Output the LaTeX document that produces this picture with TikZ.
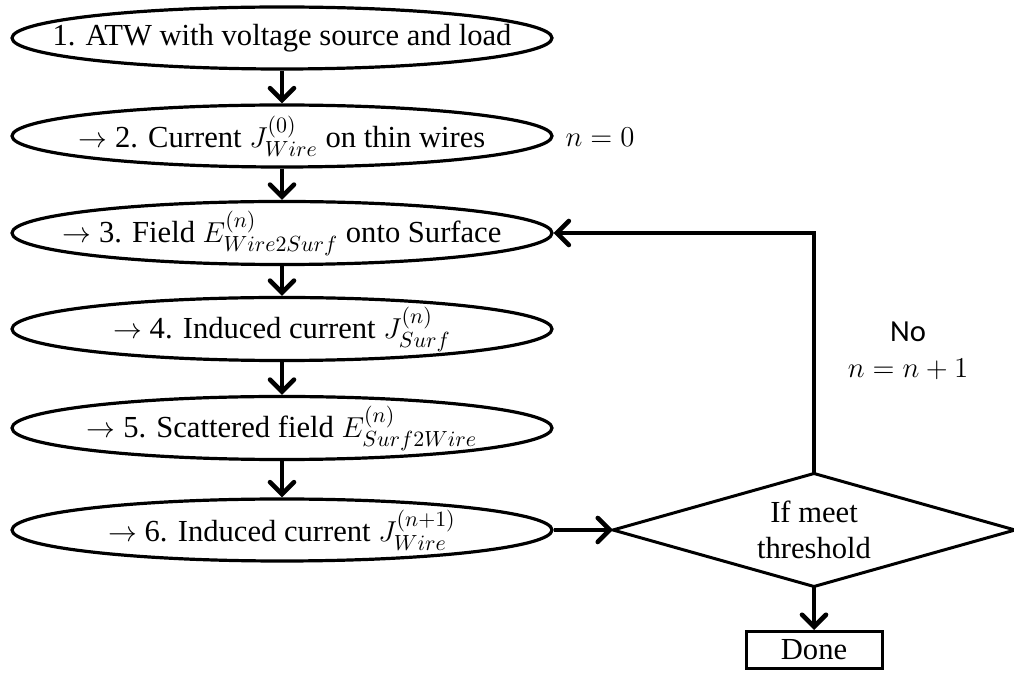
\documentclass[tikz,border=0pt]{standalone}
\usepackage{fontspec}
\setmainfont{Liberation Serif}
\newfontfamily\calfont{Carlito}
\usetikzlibrary{shapes.geometric,arrows.meta}

\begin{document}
\begin{tikzpicture}[x=0.5pt,y=-0.5pt,
    every node/.style={font=\fontsize{15.3}{18}\selectfont},
    stepell/.style={ellipse, draw, line width=1.6pt, inner sep=0pt,
        minimum width=270pt, minimum height=31pt},
    decide/.style={diamond, draw, line width=1.5pt, inner sep=0pt, outer sep=0pt,
        aspect=3.5, minimum width=201pt, minimum height=56.5pt, align=center},
    endbox/.style={rectangle, draw, line width=1.5pt, inner sep=0pt,
        minimum width=68pt, minimum height=18.5pt},
    flow/.style={line width=2.3pt, -{Straight Barb[length=6pt,width=12pt,line cap=round]}}]
    \useasboundingbox (0,0) rectangle (1014,673);

    % main chain of steps
    \node[stepell] (atw) at (282,38) {\makebox[0pt]{1. ATW with voltage source and load}};
    \node[stepell] (curw) at (282,136) {\makebox[0pt]{$\rightarrow$ 2. Current $J_{Wire}^{(0)}$ on thin wires}};
    \node[stepell] (fld) at (282,233) {\makebox[0pt]{$\rightarrow$ 3. Field $E_{Wire2Surf}^{(n)}$ onto Surface}};
    \node[stepell] (indsurf) at (282,329) {\makebox[0pt]{$\rightarrow$ 4. Induced current $J_{Surf}^{(n)}$}};
    \node[stepell] (scat) at (282,428) {\makebox[0pt]{$\rightarrow$ 5. Scattered field $E_{Surf2Wire}^{(n)}$}};
    \node[stepell] (indwire) at (282,530) {\makebox[0pt]{$\rightarrow$ 6. Induced current $J_{Wire}^{(n+1)}$}};

    % check and exit
    \node[decide] (chk) at (814,530) {If meet\\threshold};
    \node[endbox] (done) at (814,650) {Done};

    \node (nzero) at (600,137) {$n=0$};
    \node (nolbl) at (908,332) {\calfont No};
    \node (ninc) at (908,369) {$n=n+1$};

    \draw[flow] (atw) -- (curw);
    \draw[flow] (curw) -- (fld);
    \draw[flow] (fld) -- (indsurf);
    \draw[flow] (indsurf) -- (scat);
    \draw[flow] (scat) -- (indwire);
    \draw[flow] (indwire) -- (chk.west);
    \draw[flow] (chk.south) -- (done);
    \draw[flow] (chk.north) |- (fld.east);
\end{tikzpicture}
\end{document}
